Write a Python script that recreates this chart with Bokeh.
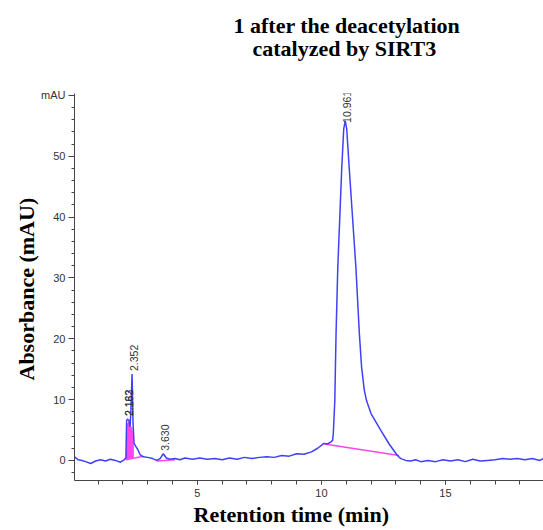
import math
from bokeh.plotting import figure
from bokeh.models import (Range1d, FixedTicker, Title, ColumnDataSource)
from bokeh.core.properties import value
from bokeh.embed import file_html
from bokeh.resources import INLINE

# ---- data ----
time_min = [0.05, 0.2, 0.35, 0.5, 0.7, 0.9, 1.1, 1.3, 1.5, 1.7, 1.9, 2.05, 2.12,
            2.15, 2.18, 2.24, 2.29, 2.32, 2.37, 2.41, 2.45, 2.52, 2.6, 2.7, 2.82,
            3.0, 3.2, 3.36, 3.5, 3.63, 3.75, 3.9, 4.1, 4.3, 4.5, 4.8, 5.1, 5.4,
            5.7, 6.0, 6.3, 6.6, 6.9, 7.2, 7.5, 7.8, 8.1, 8.4, 8.7, 9.0, 9.3, 9.6,
            9.85, 10.1, 10.25, 10.4, 10.45, 10.48, 10.54, 10.59, 10.66, 10.82,
            10.9, 10.96, 11.02, 11.12, 11.39, 11.53, 11.62, 11.73, 11.82, 12.0,
            12.2, 12.4, 12.73, 13.06, 13.2, 13.4, 13.6, 13.8, 14.0, 14.3, 14.6,
            14.9, 15.2, 15.5, 15.8, 16.1, 16.4, 16.7, 17.0, 17.3, 17.6, 17.9,
            18.2, 18.5, 18.8, 18.95]
absorbance = [0.6, 0.1, 0.0, -0.2, -0.5, -0.1, 0.1, -0.1, 0.2, 0.0, -0.3, 0.1, 0.4,
              6.5, 6.8, 6.6, 5.5, 8.0, 14.2, 6.0, 2.8, 2.3, 1.8, 0.9, 0.6,
              0.5, 0.3, 0.0, 0.3, 1.1, 0.4, 0.2, 0.3, 0.1, 0.4, 0.2, 0.4, 0.2,
              0.3, 0.1, 0.4, 0.2, 0.5, 0.3, 0.5, 0.6, 0.5, 0.8, 0.7, 1.1, 1.0, 1.4,
              2.0, 2.8, 2.7, 3.1, 3.3, 4.4, 9.8, 20.8, 31.7, 48.1,
              54.5, 55.8, 54.5, 48.1, 31.7, 20.8, 15.3, 11.5, 9.8, 7.7,
              6.3, 4.9, 2.7, 0.8, 0.3, 0.0, -0.1, 0.1, -0.2, 0.0, -0.2,
              0.1, -0.1, 0.1, -0.2, 0.2, -0.1, 0.0, 0.1, 0.3, 0.2, 0.3,
              0.1, 0.3, 0.0, 0.3]

# integration baselines (start, end) in minutes and mAU
base_t0 = [2.11, 3.36, 10.12]
base_v0 = [0.1, -0.1, 2.7]
base_t1 = [2.83, 4.10, 13.13]
base_v1 = [0.7, 0.1, 0.8]

# filled integration region under the first peaks
fill_t = [2.14, 2.18, 2.25, 2.30, 2.36, 2.42, 2.42, 2.14]
fill_v = [0.2, 6.0, 6.3, 5.3, 5.5, 2.5, 0.5, 0.2]

# peak labels
peak_t = [2.163, 2.182, 2.352, 3.630, 10.961]
peak_v = [6.8, 6.8, 14.2, 1.1, 55.8]
peak_lbl = ["2.163", "2.182", "2.352", "3.630", "10.961"]
peak_dy = [-3, -3, -3, -3, 2]

y_ticks = [0, 10, 20, 30, 40, 50, 60]
x_ticks = [5, 10, 15]

p = figure(width=543, height=530, output_backend="svg", toolbar_location=None,
           x_range=Range1d(0.05, 18.95), y_range=Range1d(-3.3, 60.3),
           min_border_left=74, min_border_right=0, min_border_top=93,
           min_border_bottom=50)
p.outline_line_color = None
p.xgrid.visible = False
p.ygrid.visible = False
p.background_fill_color = "white"

blue = "#4040f8"
pink = "#ff44ee"

p.patch(fill_t, fill_v, fill_color=pink, line_color=pink, line_width=1)
p.segment(base_t0, base_v0, base_t1, base_v1, line_color=pink, line_width=1.5)
p.line(time_min, absorbance, line_color=blue, line_width=1.5)

src = ColumnDataSource(dict(x=peak_t, y=peak_v, t=peak_lbl, dy=peak_dy))
p.text(x="x", y="y", text="t", source=src, angle=math.pi / 2,
       text_align="left", text_baseline="middle", x_offset=2, y_offset="dy",
       text_font=value("Liberation Sans"), text_font_size="10.5px",
       text_color="#333333")

# axes
for ax in (p.xaxis[0], p.yaxis[0]):
    ax.axis_line_color = "#444444"
    ax.major_tick_line_color = "#444444"
    ax.minor_tick_line_color = "#444444"
    ax.major_label_text_font = "Liberation Sans"
    ax.major_label_text_font_size = "11px"
    ax.major_label_text_color = "#333333"
    ax.major_tick_in = 0
    ax.minor_tick_in = 0

p.yaxis.ticker = FixedTicker(ticks=y_ticks, minor_ticks=list(range(-2, 61, 2)))
p.yaxis.major_label_overrides = {60: "mAU"}
p.yaxis.major_tick_out = 6
p.yaxis.minor_tick_out = 3
p.yaxis.major_label_standoff = 3

p.xaxis.ticker = FixedTicker(ticks=x_ticks, minor_ticks=list(range(1, 19)))
p.xaxis.major_tick_out = 4
p.xaxis.minor_tick_out = 4
p.xaxis.major_label_standoff = 4

serif = "Liberation Serif"
p.add_layout(Title(text="Retention time (min)", align="left", offset=119,
                   text_font=serif, text_font_size="22px",
                   text_font_style="bold", text_color="black", standoff=0), "below")
p.add_layout(Title(text="Absorbance (mAU)", align="left", offset=100,
                   text_font=serif, text_font_size="22px",
                   text_font_style="bold", text_color="black", standoff=0), "left")
# spacer between frame and the two title lines
p.add_layout(Title(text=" ", text_font_size="10px", standoff=20), "above")
p.add_layout(Title(text="catalyzed by SIRT3", align="left", offset=178,
                   text_font=serif, text_font_size="22px",
                   text_font_style="bold", text_color="black", standoff=0), "above")
p.add_layout(Title(text="1 after the deacetylation", align="left", offset=159,
                   text_font=serif, text_font_size="22px",
                   text_font_style="bold", text_color="black", standoff=-8), "above")

open("out.html", "w").write(file_html(p, INLINE))
